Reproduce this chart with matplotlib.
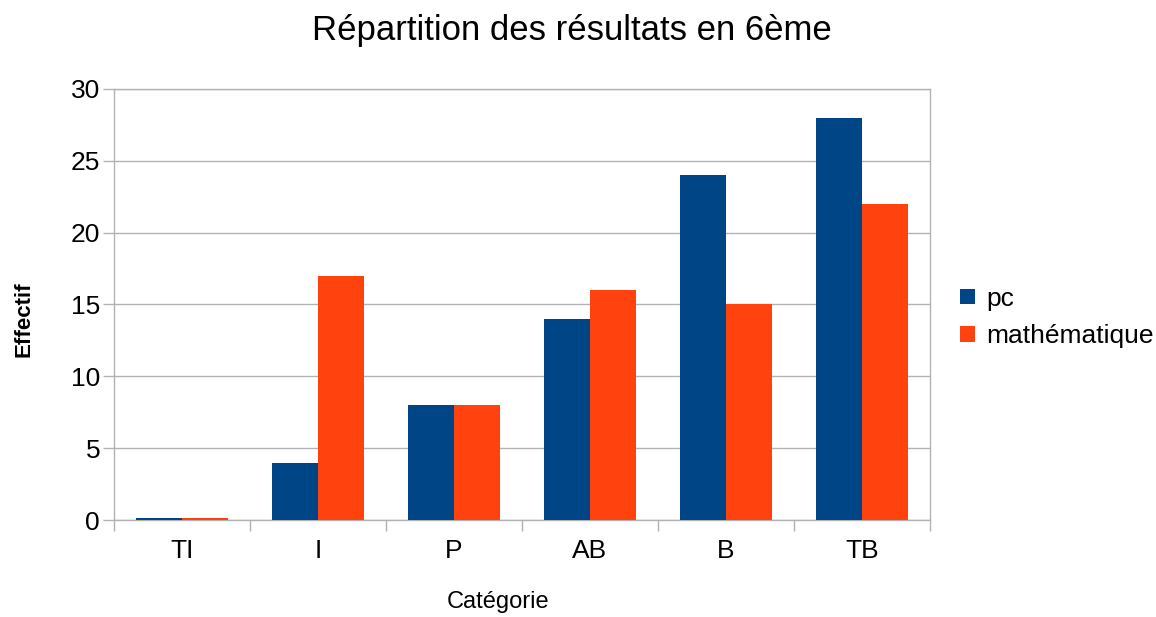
import numpy as np
import matplotlib.pyplot as plt

plt.rcParams['font.family'] = ['Liberation Sans', 'DejaVu Sans']

# données
categories = ['TI', 'I', 'P', 'AB', 'B', 'TB']
pc = [0, 4, 8, 14, 24, 28]
maths = [0, 17, 8, 16, 15, 22]
yticks = [0, 5, 10, 15, 20, 25, 30]

fig = plt.figure(figsize=(11.56, 6.17), dpi=100)
ax = fig.add_axes([0.0986, 0.1572, 0.7059, 0.6986])

x = np.arange(len(categories))
w = 0.335
# les barres à 0 sont dessinées comme un trait fin (comme LibreOffice)
ax.bar(x - w/2, np.maximum(pc, 0.15), w, color='#004586', linewidth=0, label='pc', zorder=3)
ax.bar(x + w/2, np.maximum(maths, 0.15), w, color='#ff420e', linewidth=0, label='mathématique', zorder=3)

ax.set_xlim(-0.5, len(categories) - 0.5)
ax.set_ylim(0, 30)
ax.set_yticks(yticks)
ax.yaxis.grid(True, color='#b3b3b3', linewidth=1, zorder=0)

# séparateurs de catégories
ax.set_xticks(x)
ax.set_xticklabels(categories)
ax.set_xticks(np.arange(-0.5, len(categories)), minor=True)
ax.tick_params(axis='x', which='major', length=0, labelsize=19, pad=14)
ax.tick_params(axis='x', which='minor', length=8, color='#b3b3b3', width=1)
ax.tick_params(axis='y', length=8, color='#b3b3b3', width=1, labelsize=19, pad=2)

for s in ax.spines.values():
    s.set_color('#b3b3b3')
    s.set_linewidth(1)

fig.text(0.495, 0.951, 'Répartition des résultats en 6ème', fontsize=25,
         ha='center', va='center')
ax.set_xlabel('Catégorie', fontsize=17)
ax.xaxis.set_label_coords(0.471, -0.165)
ax.set_ylabel('Effectif', fontsize=16, fontweight='bold')
ax.yaxis.set_label_coords(-0.098, 0.465)

ax.legend(loc='center left', bbox_to_anchor=(1.008, 0.47), frameon=False,
          fontsize=19, handlelength=0.55, handleheight=0.55, handletextpad=0.45,
          labelspacing=0.5)

fig.savefig('out.png')
